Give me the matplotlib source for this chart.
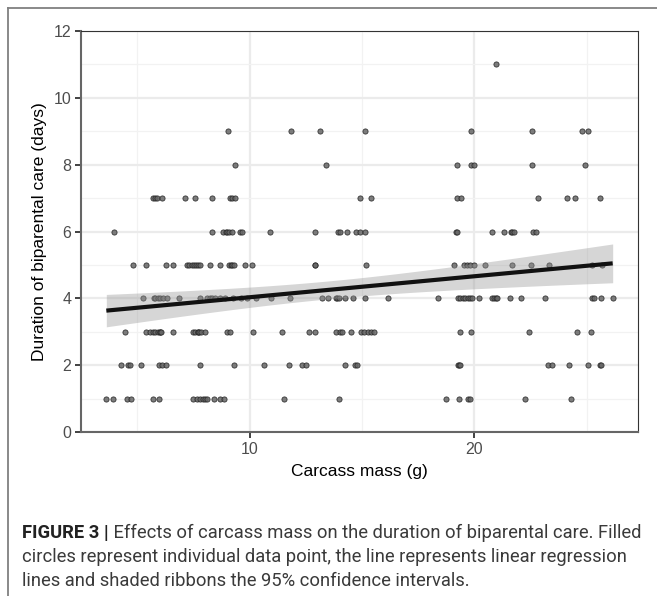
import numpy as np
import matplotlib
matplotlib.use("Agg")
import matplotlib.pyplot as plt
from matplotlib.lines import Line2D

# carcass mass (g) of each brood, grouped by duration of biparental care (days)
mass_d1 = [3.62, 3.92, 4.55, 4.72, 5.69, 5.97, 7.47, 7.65, 7.79, 7.94, 8.03, 8.08, 8.43, 8.66, 8.88,
           11.54, 13.98, 18.76, 19.31, 19.72, 19.81, 22.26, 24.31]
mass_d2 = [4.27, 4.58, 4.67, 5.16, 5.97, 6.09, 6.26, 7.79, 9.29, 10.63, 11.76, 12.31, 12.49, 14.26,
           14.67, 14.76, 19.26, 19.32, 19.38, 23.27, 23.45, 24.22, 25.08, 25.58, 25.64]
mass_d3 = [4.47, 5.40, 5.57, 5.69, 5.80, 5.92, 5.99, 6.00, 6.05, 6.57, 7.47, 7.57, 7.68, 7.70, 7.75,
           7.83, 8.02, 8.98, 9.13, 10.16, 11.42, 12.63, 12.90, 13.86, 14.01, 14.11, 14.50, 14.95,
           15.10, 15.25, 15.40, 15.55, 19.35, 19.87, 22.43, 24.56, 25.18]
mass_d4 = [5.26, 5.73, 5.80, 5.90, 6.02, 6.13, 6.32, 6.86, 7.79, 8.12, 8.22, 8.34, 8.45, 8.68, 8.90,
           9.28, 9.60, 9.90, 10.27, 10.93, 11.79, 13.23, 13.49, 13.83, 13.91, 13.98, 14.23, 14.60,
           15.14, 16.14, 18.40, 19.28, 19.38, 19.49, 19.60, 19.72, 19.82, 19.91, 20.20, 20.80, 20.87,
           20.95, 21.02, 21.57, 22.10, 23.14, 25.24, 25.31, 25.64, 26.16]
mass_d5 = [4.79, 5.38, 6.27, 6.61, 7.20, 7.31, 7.43, 7.53, 7.60, 7.71, 7.79, 8.24, 8.68, 9.08, 9.16,
           9.23, 9.30, 9.78, 10.12, 12.90, 12.92, 15.19, 19.10, 19.54, 19.69, 19.81, 19.99, 20.49,
           21.70, 22.52, 23.33, 25.24, 25.68]
mass_d6 = [3.95, 8.31, 8.83, 8.93, 9.01, 9.08, 9.23, 9.57, 9.68, 10.90, 12.93, 13.94, 14.04, 14.34,
           14.75, 14.93, 15.15, 19.20, 19.25, 20.81, 21.33, 21.63, 21.70, 21.78, 22.62, 22.74]
mass_d7 = [5.69, 5.80, 5.87, 6.09, 7.12, 7.56, 8.34, 9.11, 9.23, 9.33, 14.90, 15.40, 19.25, 19.40,
           22.84, 24.13, 24.47, 25.61]
mass_d8 = [9.33, 13.40, 19.22, 19.84, 20.00, 22.58, 24.91]
mass_d9 = [9.05, 11.85, 13.11, 15.12, 19.84, 22.58, 24.81, 25.06]
mass_d11 = [20.96]

groups = {1: mass_d1, 2: mass_d2, 3: mass_d3, 4: mass_d4, 5: mass_d5, 6: mass_d6,
          7: mass_d7, 8: mass_d8, 9: mass_d9, 11: mass_d11}

x_ticks = [10, 20]
y_ticks = [0, 2, 4, 6, 8, 10, 12]

caption_bold = "FIGURE 3 |"
caption_lines = [
    " Effects of carcass mass on the duration of biparental care. Filled",
    "circles represent individual data point, the line represents linear regression",
    "lines and shaded ribbons the 95% confidence intervals.",
]

mass = np.concatenate([np.array(v, float) for v in groups.values()])
days = np.concatenate([np.full(len(v), k, float) for k, v in groups.items()])

# linear fit with 95% confidence band (like geom_smooth(method = "lm"))
slope, intercept = np.polyfit(mass, days, 1)
n = len(mass)
resid = days - (intercept + slope * mass)
s = np.sqrt(np.sum(resid ** 2) / (n - 2))
xs = np.linspace(mass.min(), mass.max(), 80)
fit = intercept + slope * xs
se = s * np.sqrt(1.0 / n + (xs - mass.mean()) ** 2 / np.sum((mass - mass.mean()) ** 2))
t_crit = 1.972

W, H = 657, 596
fig = plt.figure(figsize=(W / 100, H / 100), dpi=100)
ax = fig.add_axes([81 / W, 1 - 432 / H, (638 - 81) / W, (432 - 31) / H])

ax.scatter(mass, days, s=14, facecolor="#666666", edgecolor="#222222", linewidths=0.6,
           alpha=0.85, zorder=3)
ax.fill_between(xs, fit - t_crit * se, fit + t_crit * se, color="#999999", alpha=0.4,
                linewidth=0, zorder=4)
ax.plot(xs, fit, color="#111111", lw=3.0, zorder=5, solid_capstyle="butt")

span = mass.max() - mass.min()
ax.set_xlim(mass.min() - 0.05 * span, mass.max() + 0.05 * span)
ax.set_ylim(0, 12)
ax.set_xticks(x_ticks)
ax.set_yticks(y_ticks)
ax.set_xticks([5, 15, 25], minor=True)
ax.set_yticks([1, 3, 5, 7, 9, 11], minor=True)
ax.grid(which="major", color="#ebebeb", lw=1.6, zorder=0)
ax.grid(which="minor", color="#f2f2f2", lw=0.9, zorder=0)
ax.set_axisbelow(True)
ax.tick_params(which="minor", length=0)
ax.tick_params(which="major", length=4, width=1.3, color="#333333", labelsize=11.5,
               labelcolor="#4d4d4d", pad=3)
for side in ["top", "right"]:
    ax.spines[side].set_color("#333333")
    ax.spines[side].set_linewidth(0.8)
for side in ["left", "bottom"]:
    ax.spines[side].set_color("#666666")
    ax.spines[side].set_linewidth(1.5)

font = "Liberation Sans"
for lab in ax.get_xticklabels() + ax.get_yticklabels():
    lab.set_family(font)
ax.set_xlabel("Carcass mass (g)", fontsize=12.5, family=font, labelpad=5)
ax.set_ylabel("Duration of biparental care (days)", fontsize=12.5, family=font, labelpad=5)

# frame lines of the figure panel
fig.add_artist(Line2D([7.5 / W, 1], [1 - 7.5 / H, 1 - 7.5 / H], color="#808080", lw=1.3))
fig.add_artist(Line2D([7.5 / W, 7.5 / W], [0, 1 - 7.5 / H], color="#808080", lw=1.3))

# caption
cap_font = "Roboto"
cap_size = 13.2
x0 = 22 / W
y_lines = [533, 557, 581]
tb = fig.text(x0, 1 - y_lines[0] / H, caption_bold, fontsize=cap_size, family=cap_font,
              weight="bold", va="center", color="#222222")
fig.canvas.draw()
bb = tb.get_window_extent().transformed(fig.transFigure.inverted())
fig.text(bb.x1, 1 - y_lines[0] / H, caption_lines[0], fontsize=cap_size, family=cap_font,
         va="center", color="#3a3a3a")
for line, yy in zip(caption_lines[1:], y_lines[1:]):
    fig.text(x0, 1 - yy / H, line, fontsize=cap_size, family=cap_font, va="center",
             color="#3a3a3a")

fig.savefig("out.png", dpi=100)
